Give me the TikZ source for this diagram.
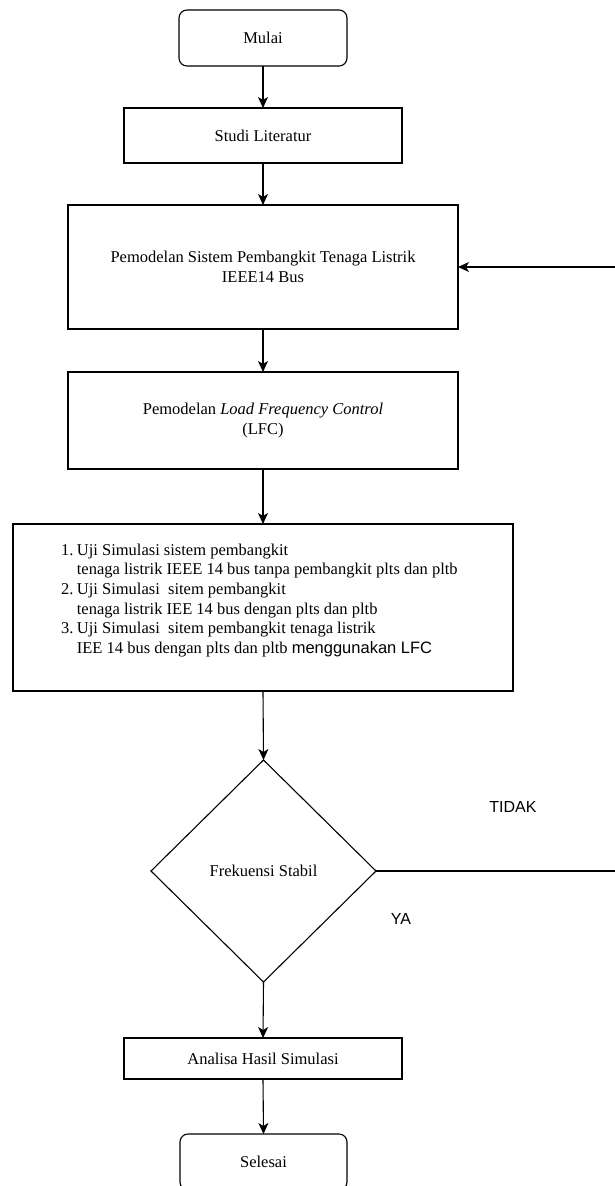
\documentclass[tikz,border=0pt]{standalone}
\usepackage{fontspec}
\setmainfont{Liberation Serif}
\newfontfamily\arialf{Liberation Sans}
\usetikzlibrary{shapes.geometric,arrows.meta}
\begin{document}
\begin{tikzpicture}[x=1pt,y=-1pt,
  every node/.style={font=\fontsize{16.5}{19.7}\selectfont, inner sep=0pt, outer sep=0pt},
  box/.style={draw, line width=1.1pt, rectangle, align=center},
  termbox/.style={draw, line width=1.1pt, rectangle, rounded corners=8pt},
  decision/.style={draw, line width=1.1pt, diamond},
  lbl/.style={font=\arialf\fontsize{16}{19}\selectfont},
  conn/.style={line width=1.1pt, -{Stealth[length=11pt,width=10pt,inset=3pt]}}
]
\useasboundingbox (0,0) rectangle (614,1186);

\node[termbox, minimum width=168, minimum height=56] (mulai) at (263,38) {Mulai};
\node[box, minimum width=278, minimum height=55] (studi) at (263,135.5) {Studi Literatur};
\node[box, minimum width=390, minimum height=124] (pem) at (263,267) {Pemodelan Sistem Pembangkit Tenaga Listrik\\IEEE14 Bus};
\node[box, minimum width=390, minimum height=97] (lfc) at (263,420.5) {Pemodelan \textit{Load Frequency Control}\\(LFC)};
\node[box, minimum width=500, minimum height=167] (uji) at (263,607.5) {};
\node[anchor=base west] (ujitxt) at (61,555) {\begin{tabular}[t]{@{}l@{\hspace{3.5pt}}l@{}}
1. & Uji Simulasi sistem pembangkit\\
 & tenaga listrik IEEE 14 bus tanpa pembangkit plts dan pltb\\
2. & Uji Simulasi\ \ sitem pembangkit\\
 & tenaga listrik IEE 14 bus dengan plts dan pltb\\
3. & Uji Simulasi\ \ sitem pembangkit tenaga listrik\\
 & IEE 14 bus dengan plts dan pltb {\arialf menggunakan LFC}
\end{tabular}};
\node[decision, minimum width=225, minimum height=222] (dia) at (263.5,871) {Frekuensi Stabil};
\node[box, minimum width=278, minimum height=41] (analisa) at (263,1058.5) {Analisa Hasil Simulasi};
\node[termbox, minimum width=167, minimum height=56] (selesai) at (263.5,1162) {Selesai};

\node[lbl] (tidak) at (513,807) {TIDAK};
\node[lbl] (ya) at (401,919) {YA};

\coordinate (fb) at (622,871);

\draw[conn] (mulai.south) -- (studi.north);
\draw[conn] (studi.south) -- (pem.north);
\draw[conn] (pem.south) -- (lfc.north);
\draw[conn] (lfc.south) -- (uji.north);
\draw[conn] (uji.south) -- (dia.north);
\draw[conn] (dia.south) -- (analisa.north);
\draw[conn] (analisa.south) -- (selesai.north);
\draw[conn] (dia.east) -- (fb) |- (pem.east);
\end{tikzpicture}
\end{document}
